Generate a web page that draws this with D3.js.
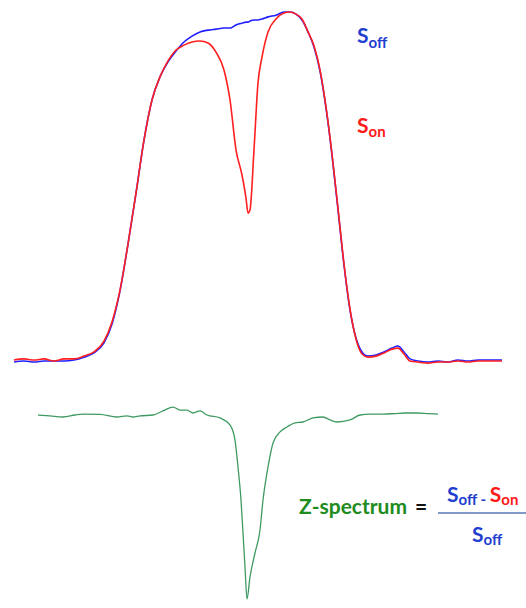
<!DOCTYPE html>
<html>
<head>
<meta charset="utf-8">
<script src="https://cdn.jsdelivr.net/npm/d3@7"></script>
<style>
  html, body { margin: 0; padding: 0; background: #fff; }
  svg { display: block; }
  text { font-family: Lato, "Open Sans", sans-serif; font-weight: 700; }
</style>
</head>
<body>
<svg id="chart" width="526" height="608"></svg>
<script>
// Saturation offset (ppm) for the top spectra
const offsets = [-5.85,-5.6,-5.35,-5.1,-4.85,-4.6,-4.35,-4.1,-3.85,-3.6,-3.4,-3.2,-3.0,-2.8,-2.6,-2.4,-2.2,-2.0,-1.8,-1.6,-1.4,-1.2,-1.0,-0.8,-0.6,-0.45,-0.3,-0.15,-0.05,0,0.05,0.15,0.25,0.35,0.5,0.7,0.9,1.05,1.2,1.35,1.5,1.65,1.8,1.95,2.1,2.25,2.4,2.55,2.7,2.85,3.0,3.2,3.4,3.6,3.75,3.9,4.05,4.25,4.5,4.75,5.0,5.25,5.5,5.75,6.0,6.35];
// Signal without saturation (S_off), % of max
const sOff = [-0.3,0,-0.3,0,0,0,0.3,1.1,2.3,5.2,10.6,20.1,33.5,48.1,63.3,74.8,81.4,85.7,88.8,91.4,93.1,94.3,94.8,95.1,95.4,95.4,96.3,96.8,97.1,97.1,97.4,97.7,97.7,98.0,98.6,99.1,100,100,99.4,97.7,94.3,90.0,83.1,72.5,59.0,43.3,27.5,14.6,6.6,2.6,1.4,1.7,2.6,3.7,4.3,2.6,0.6,0,-0.3,0,-0.3,0.3,0,0.3,0.3,0.3];
// Signal with saturation (S_on), % of max
const sOn = [0.3,0.6,0.3,0.6,0,0.6,0.6,1.4,2.6,5.7,11.2,20.3,33.5,48.1,63.3,74.8,81.4,86.0,89.1,90.5,91.4,91.7,91.1,88.5,83.4,74.8,60.5,53.3,46.7,42.4,43.3,60.5,79.7,87.1,94.3,98.0,99.7,100,99.4,98.0,94.3,90.3,83.4,72.8,59.3,43.8,27.8,14.9,6.3,2.0,1.1,1.4,2.3,3.4,3.7,2.0,0,-0.3,-0.6,-0.3,-0.3,0,-0.3,0,0,0];

// Z-spectrum (bottom)
const zOffsets = [-5.25,-4.95,-4.625,-4.325,-4.125,-3.7,-3.275,-3.025,-2.875,-2.7,-2.375,-2.125,-1.875,-1.7,-1.525,-1.375,-1.2,-1.025,-0.7,-0.45,-0.325,-0.25,-0.175,-0.125,-0.075,-0.025,0.05,0.175,0.3,0.375,0.5,0.625,0.8,0.975,1.175,1.375,1.625,1.875,2.05,2.225,2.55,2.8,3.05,3.375,3.675,3.925,4.225,4.5,4.75];
const zValues = [100,99.5,98.9,100,100.5,100.3,98.9,99.5,98.9,99.5,100,102.2,104.3,102.7,102.7,101.1,102.2,100,98.4,94.6,86.4,71.7,53.8,35.9,17.4,0,12.0,25.0,37.5,53.8,71.7,84.8,90.8,93.5,95.7,96.2,98.4,98.9,97.3,96.2,97.3,100,100.5,100.5,100.8,101.1,101.1,100.8,100.5];

const svg = d3.select("#chart");

const x = d3.scaleLinear().domain([-6, 6]).range([8, 488]);
const yTop = d3.scaleLinear().domain([0, 100]).range([361, 12]);
const yZ = d3.scaleLinear().domain([0, 100]).range([599, 415]);

const topLine = (vals) => d3.line()
  .x((d, i) => x(offsets[i]))
  .y(d => yTop(d))
  .curve(d3.curveMonotoneX)(vals);

svg.append("path").attr("d", topLine(sOff))
  .attr("fill", "none").attr("stroke", "#1f1fff").attr("stroke-width", 1.6);
svg.append("path").attr("d", topLine(sOn))
  .attr("fill", "none").attr("stroke", "#ff2020").attr("stroke-width", 1.6);

const zLine = d3.line()
  .x((d, i) => x(zOffsets[i]))
  .y(d => yZ(d))
  .curve(d3.curveMonotoneX);
svg.append("path").attr("d", zLine(zValues))
  .attr("fill", "none").attr("stroke", "#3f9a62").attr("stroke-width", 1.3);

// Labels
function sLabel(xp, yp, sub, color, big, small, dy) {
  const t = svg.append("text").attr("x", xp).attr("y", yp).attr("fill", color);
  t.append("tspan").attr("font-size", big).text("S");
  t.append("tspan").attr("font-size", small).attr("dy", dy).text(sub);
  return t;
}
sLabel(357, 43, "off", "#1f3fd0", 21, 15, 5);
sLabel(357, 133, "on", "#ff1a1a", 21, 15, 4);

// Formula
svg.append("text").attr("x", 299).attr("y", 514).attr("fill", "#1e8c1e")
  .attr("font-size", 21).text("Z-spectrum");
svg.append("text").attr("x", 415).attr("y", 514).attr("fill", "#111")
  .attr("font-size", 21).text("=");

const num = svg.append("text").attr("x", 447).attr("y", 502);
num.append("tspan").attr("fill", "#1f3fd0").attr("font-size", 21).text("S");
num.append("tspan").attr("fill", "#1f3fd0").attr("font-size", 15).attr("dy", 3).text("off");
num.append("tspan").attr("fill", "#1f3fd0").attr("font-size", 15).text(" - ");
num.append("tspan").attr("fill", "#ff1a1a").attr("font-size", 21).attr("dy", -3).text("S");
num.append("tspan").attr("fill", "#ff1a1a").attr("font-size", 15).attr("dy", 3).text("on");

svg.append("line").attr("x1", 438).attr("x2", 526).attr("y1", 513).attr("y2", 513)
  .attr("stroke", "#5878b8").attr("stroke-width", 1.5);

sLabel(472, 542, "off", "#1f3fd0", 21, 15, 3);
</script>
</body>
</html>
